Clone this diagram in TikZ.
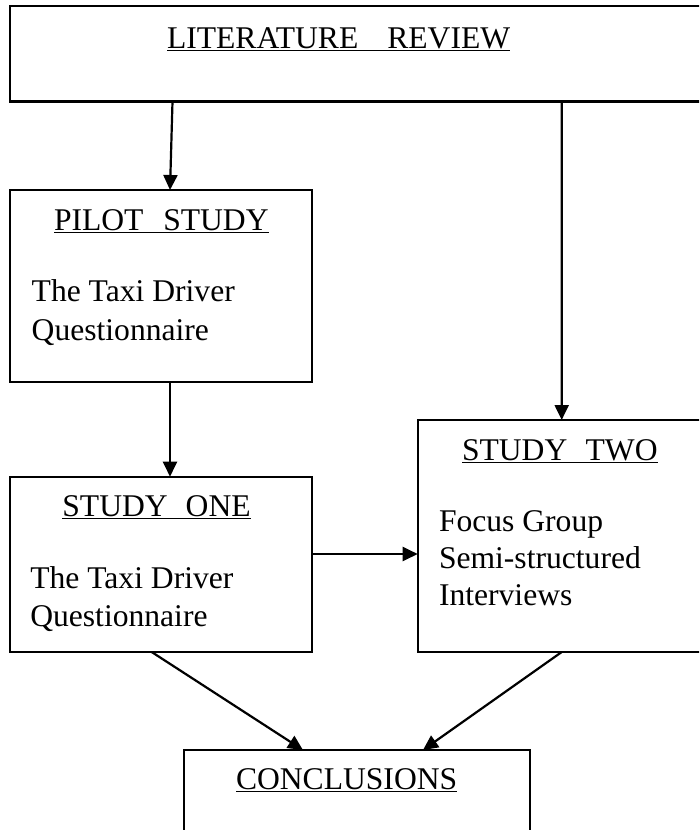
\documentclass[tikz,border=0pt]{standalone}
\usepackage{fontspec}
\setmainfont{Liberation Serif}
\usetikzlibrary{arrows.meta}
\begin{document}
\begin{tikzpicture}[x=1pt,y=-1pt,
  box/.style={draw,line width=2.2pt,inner sep=0pt,outer sep=0pt},
  txt/.style={anchor=base west,inner sep=0pt,outer sep=0pt,font=\fontsize{31.6}{38}\selectfont},
  arr/.style={line width=2.2pt,-{Triangle[length=15pt,width=14pt]}}]
\clip (0,0) rectangle (699,830);
\fill[white] (0,0) rectangle (699,830);
% boxes
\node[box,minimum width=691pt,minimum height=95.5pt] (lit) at (355.5,53.75) {};
\node[box,minimum width=302pt,minimum height=191.7pt] (pilot) at (161,285.85) {};
\node[box,minimum width=302pt,minimum height=175.3pt] (one) at (161,564.35) {};
\node[box,minimum width=283.3pt,minimum height=232pt] (two) at (559.35,536) {};
\node[box,minimum width=346pt,minimum height=95pt] (conc) at (357,797.5) {};
% texts
\node[txt] (tlit) at (167,48) {\underline{LITERATURE\hspace{29pt}REVIEW}};
\node[txt] (tpilot) at (54,230) {\underline{PILOT\hspace{19.8pt}STUDY}};
\node[txt] (tp1) at (31.7,301.7) {The Taxi Driver};
\node[txt] (tp2) at (31.7,340) {Questionnaire};
\node[txt] (tone) at (62.4,516) {\underline{STUDY\hspace{18pt}ONE}};
\node[txt] (to1) at (30.3,588) {The Taxi Driver};
\node[txt] (to2) at (30.3,626.7) {Questionnaire};
\node[txt] (ttwo) at (462,460) {\underline{STUDY\hspace{18.3pt}TWO}};
\node[txt] (tt1) at (439,531.7) {Focus Group};
\node[txt] (tt2) at (439,568.3) {Semi-structured};
\node[txt] (tt3) at (439,605) {Interviews};
\node[txt] (tconc) at (236,789) {\underline{CONCLUSIONS}};
% connectors
\draw[arr] ([xshift=162.5pt]lit.south west) -- ([xshift=160pt]pilot.north west);
\draw[arr] ([xshift=551.7pt]lit.south west) -- ([xshift=144pt]two.north west);
\draw[arr] ([xshift=160pt]pilot.south west) -- ([xshift=160pt]one.north west);
\draw[arr] ([yshift=10.35pt]one.east) coordinate (h) -- (h -| two.west);
\draw[arr] ([xshift=141.7pt]one.south west) -- ([xshift=119pt]conc.north west);
\draw[arr] ([xshift=144pt]two.south west) -- ([xshift=239pt]conc.north west);
\end{tikzpicture}
\end{document}
